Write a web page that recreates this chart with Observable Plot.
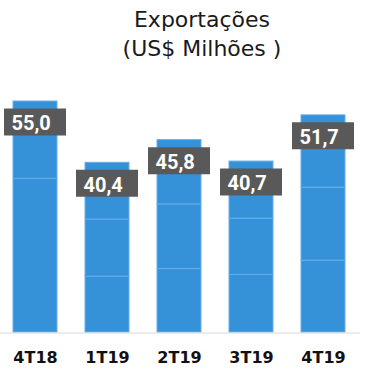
<!DOCTYPE html>
<html>
<head>
<meta charset="utf-8">
<script src="https://cdn.jsdelivr.net/npm/d3@7"></script>
<script src="https://cdn.jsdelivr.net/npm/@observablehq/plot@0.6"></script>
<style>
  html, body { margin: 0; padding: 0; background: #fff; }
  #title {
    box-sizing: border-box; height: 70px; width: 369px;
    padding-top: 5px; padding-left: 35px;
    text-align: center; font-family: "DejaVu Sans", sans-serif;
    font-size: 22px; line-height: 29px; color: #1a1a1a;
  }
  svg { display: block; }
</style>
</head>
<body>
<div id="title">Exportações<br>(US$ Milhões )</div>
<div id="chart"></div>
<script>
const quarters = ["4T18", "1T19", "2T19", "3T19", "4T19"];
const totals = [55.0, 40.4, 45.8, 40.7, 51.7];
// stacked parts (bottom to top)
const part1 = [36.6, 13.3, 15.1, 13.7, 17.1];
const part2 = [18.4, 13.6, 15.4, 13.4, 17.4];
const part3 = [0, 13.5, 15.3, 13.6, 17.2];

const segments = [];
quarters.forEach((q, i) => {
  [part1[i], part2[i], part3[i]].forEach(v => { if (v > 0) segments.push({q, v}); });
});
const totalsData = quarters.map((q, i) => ({q, v: totals[i]}));

const chart = Plot.plot({
  width: 369,
  height: 304,
  marginLeft: 0,
  marginRight: 9,
  marginTop: 10,
  marginBottom: 42,
  x: {domain: quarters, paddingInner: 0.389, paddingOuter: 0.194, align: 0.464, label: null},
  y: {domain: [0, 60], axis: null},
  marks: [
    Plot.barY(segments, {x: "q", y: "v", fill: "#3592d9", stroke: "#68ade6", strokeWidth: 1}),
    Plot.ruleY([0], {stroke: "#d9d9d9", strokeWidth: 1, dy: 0.5}),
    Plot.tickY(totalsData, {x: "q", y: "v", stroke: "#595959", strokeWidth: 27, dy: 20.5, insetLeft: -9, insetRight: -9}),
    Plot.text(totalsData, {
      x: "q", y: "v", text: d => d.v.toFixed(1).replace(".", ","),
      dy: 22.5, dx: -24, textAnchor: "start", fill: "white",
      fontSize: 20, fontWeight: "bold", fontFamily: "Roboto"
    }),
    Plot.axisX({tickSize: 0, tickPadding: 19, fontSize: 16, fontWeight: "bold", fontFamily: "DejaVu Sans", fill: "#111"})
  ]
});
document.getElementById("chart").appendChild(chart);
</script>
</body>
</html>
